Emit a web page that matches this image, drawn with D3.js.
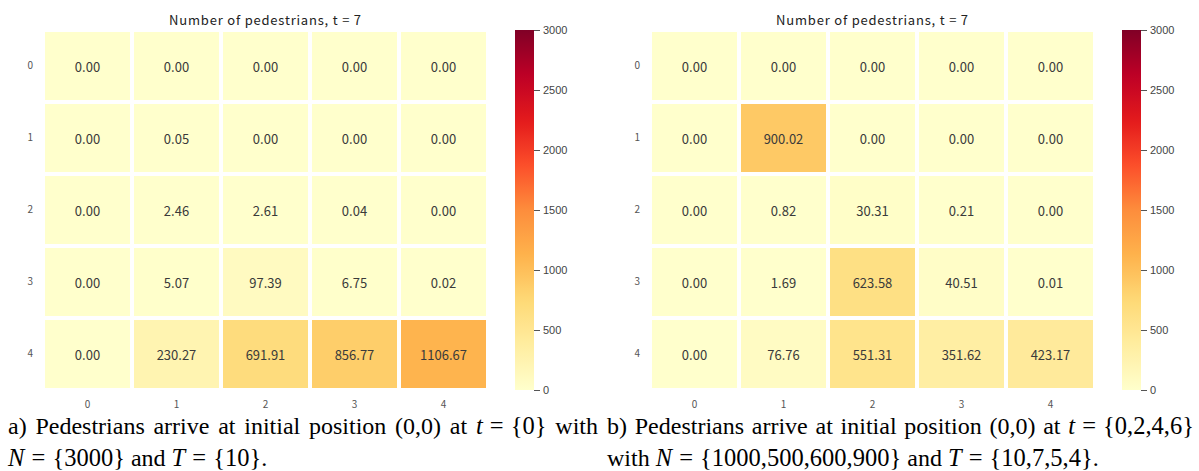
<!DOCTYPE html>
<html>
<head>
<meta charset="utf-8">
<script src="https://cdn.jsdelivr.net/npm/d3@7"></script>
<style>
  html, body { margin: 0; padding: 0; background: #ffffff; }
  svg { display: block; }
</style>
</head>
<body>
<svg id="chart" width="1199" height="471"></svg>
<script>
// Grid labels
const rowLabels = ["0", "1", "2", "3", "4"];
const colLabels = ["0", "1", "2", "3", "4"];

// Pedestrian counts per cell at t = 7 (rows top to bottom)
const countsSingle = [
  [0, 0, 0, 0, 0],
  [0, 0.05, 0, 0, 0],
  [0, 2.46, 2.61, 0.04, 0],
  [0, 5.07, 97.39, 6.75, 0.02],
  [0, 230.27, 691.91, 856.77, 1106.67]
];
const countsMulti = [
  [0, 0, 0, 0, 0],
  [0, 900.02, 0, 0, 0],
  [0, 0.82, 30.31, 0.21, 0],
  [0, 1.69, 623.58, 40.51, 0.01],
  [0, 76.76, 551.31, 351.62, 423.17]
];

// Colour bar range and ticks
const colorMin = 0;
const colorMax = 3000;
const colorbarTicks = [0, 500, 1000, 1500, 2000, 2500, 3000];

const titleText = "Number of pedestrians, t = 7";

// Captions: lines of tokens, each token a list of [text, style] parts
// style: "r" roman text, "i" math italic, "m" math upright
const captionSingle = [
  [[["a)", "r"]], [["Pedestrians", "r"]], [["arrive", "r"]], [["at", "r"]],
   [["initial", "r"]], [["position", "r"]], [["(0,0)", "r"]], [["at", "r"]],
   [["t", "i"], [" = {0}", "m"]], [["with", "r"]]],
  [[["N", "i"], [" = {3000}", "m"]], [["and", "r"]], [["T", "i"], [" = {10}", "m"], [".", "r"]]]
];
const captionMulti = [
  [[["b)", "r"]], [["Pedestrians", "r"]], [["arrive", "r"]], [["at", "r"]],
   [["initial", "r"]], [["position", "r"]], [["(0,0)", "r"]], [["at", "r"]],
   [["t", "i"], [" = {0,2,4,6}", "m"]]],
  [[["with", "r"]], [["N", "i"], [" = {1000,500,600,900}", "m"]], [["and", "r"]],
   [["T", "i"], [" = {10,7,5,4}", "m"], [".", "r"]]]
];

// YlOrRd (ColorBrewer 9-class), linearly interpolated
const ylOrRd = ["#ffffcc", "#ffeda0", "#fed976", "#feb24c", "#fd8d3c",
                "#fc4e2a", "#e31a1c", "#bd0026", "#800026"];
const color = d3.scaleLinear()
  .domain(ylOrRd.map((_, i) => colorMin + i * (colorMax - colorMin) / (ylOrRd.length - 1)))
  .range(ylOrRd)
  .interpolate(d3.interpolateRgb);

const svg = d3.select("#chart");
const defs = svg.append("defs");

// Shared vertical gradient for the colour bars
const grad = defs.append("linearGradient")
  .attr("id", "cbar-grad")
  .attr("x1", 0).attr("y1", 1).attr("x2", 0).attr("y2", 0);
d3.range(0, 1.0001, 0.02).forEach(t => {
  grad.append("stop")
    .attr("offset", t)
    .attr("stop-color", color(colorMin + t * (colorMax - colorMin)));
});

const fmt = d3.format(".2f");
const labelFont = "'Noto Sans CJK SC', 'Noto Sans', sans-serif";

const panels = [
  { left: 43, cbarLeft: 515, data: countsSingle, caption: captionSingle, capLeft: 8, capRight: 598 },
  { left: 650, cbarLeft: 1122, data: countsMulti, caption: captionMulti, capLeft: 607, capRight: 1194 }
];

const gridTop = 30, gridBottom = 390, gridWidth = 445;
const cellGap = 2;

panels.forEach(p => {
  const g = svg.append("g");

  const x = d3.scaleBand().domain(colLabels).range([p.left, p.left + gridWidth]);
  const y = d3.scaleBand().domain(rowLabels).range([gridTop, gridBottom]);

  const cells = [];
  p.data.forEach((row, r) => row.forEach((v, c) => cells.push({ r: rowLabels[r], c: colLabels[c], v })));

  g.selectAll("rect.cell")
    .data(cells)
    .join("rect")
    .attr("class", "cell")
    .attr("x", d => x(d.c) + cellGap)
    .attr("y", d => y(d.r) + cellGap)
    .attr("width", x.bandwidth() - 2 * cellGap)
    .attr("height", y.bandwidth() - 2 * cellGap)
    .attr("fill", d => color(d.v));

  g.selectAll("text.annot")
    .data(cells)
    .join("text")
    .attr("class", "annot")
    .attr("x", d => x(d.c) + x.bandwidth() / 2)
    .attr("y", d => y(d.r) + y.bandwidth() / 2)
    .attr("text-anchor", "middle")
    .attr("dominant-baseline", "central")
    .attr("font-family", labelFont)
    .attr("font-size", 13)
    .attr("fill", "#3a3a3a")
    .text(d => fmt(d.v));

  // Title
  g.append("text")
    .attr("x", p.left + gridWidth / 2)
    .attr("y", 19)
    .attr("text-anchor", "middle")
    .attr("dominant-baseline", "central")
    .attr("font-family", labelFont)
    .attr("font-size", 13)
    .attr("letter-spacing", 0.8)
    .attr("fill", "#222222")
    .text(titleText);

  // Axes (labels only)
  const xAxis = g.append("g")
    .attr("transform", `translate(0,${gridBottom})`)
    .call(d3.axisBottom(x).tickSize(0).tickPadding(11));
  const yAxis = g.append("g")
    .attr("transform", `translate(${p.left},0)`)
    .call(d3.axisLeft(y).tickSize(0).tickPadding(10));
  [xAxis, yAxis].forEach(a => {
    a.select(".domain").remove();
    a.selectAll("text")
      .attr("font-family", labelFont)
      .attr("font-size", 10)
      .attr("fill", "#555555");
  });

  // Colour bar
  const cy = d3.scaleLinear().domain([colorMin, colorMax]).range([gridBottom, gridTop]);
  g.append("rect")
    .attr("x", p.cbarLeft)
    .attr("y", cy(colorMax))
    .attr("width", 19)
    .attr("height", cy(colorMin) - cy(colorMax))
    .attr("fill", "url(#cbar-grad)");
  const cAxis = g.append("g")
    .attr("transform", `translate(${p.cbarLeft + 19},0)`)
    .call(d3.axisRight(cy).tickValues(colorbarTicks).tickSize(6).tickPadding(3).tickFormat(d3.format("d")));
  cAxis.select(".domain").remove();
  cAxis.selectAll("line").attr("stroke", "#555555");
  cAxis.selectAll("text")
    .attr("font-family", "Liberation Sans, Arial, sans-serif")
    .attr("font-size", 11)
    .attr("fill", "#444444");

  // Caption, first line justified, second line left-aligned
  const capG = g.append("g")
    .attr("font-family", "Liberation Serif, Times New Roman, serif")
    .attr("font-size", 24)
    .attr("fill", "#000000");
  const baselines = [434, 466];

  const spaceProbe = capG.append("text").text("a b");
  const spaceProbe2 = capG.append("text").text("ab");
  const spaceW = spaceProbe.node().getComputedTextLength() - spaceProbe2.node().getComputedTextLength();
  spaceProbe.remove(); spaceProbe2.remove();

  p.caption.forEach((line, li) => {
    const nodes = line.map(tok => {
      const t = capG.append("text").attr("y", baselines[li]);
      tok.forEach(([s, st]) => {
        t.append("tspan")
          .attr("font-style", st === "i" ? "italic" : "normal")
          .attr("font-size", st === "r" ? null : 24.5)
          .attr("word-spacing", st === "m" ? 1 : null)
          .attr("xml:space", "preserve")
          .style("white-space", "pre")
          .text(s);
      });
      return t;
    });
    const widths = nodes.map(n => n.node().getComputedTextLength());
    const total = d3.sum(widths);
    const justify = li < p.caption.length - 1;
    const gap = justify ? (p.capRight - p.capLeft - total) / (nodes.length - 1) : spaceW;
    let cx = p.capLeft;
    nodes.forEach((n, i) => {
      n.attr("x", cx);
      cx += widths[i] + gap;
    });
  });
});
</script>
</body>
</html>
